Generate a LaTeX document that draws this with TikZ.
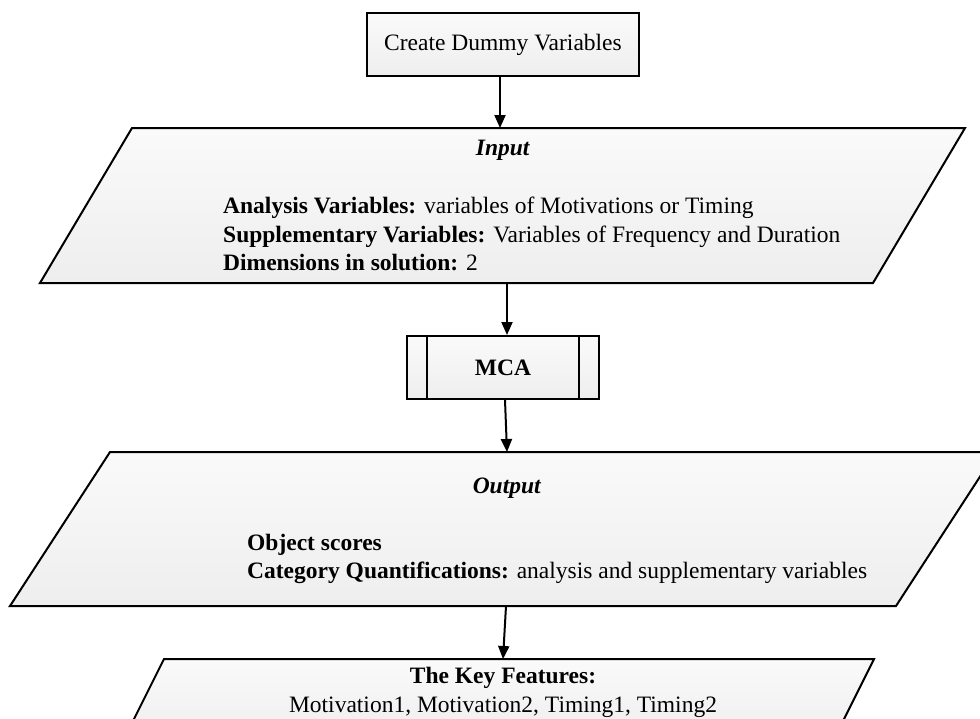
\documentclass[tikz,border=0pt]{standalone}
\usepackage{fontspec}
\setmainfont{Liberation Serif}
\usetikzlibrary{arrows.meta,calc}
\definecolor{boxtop}{HTML}{FAFAFA}
\definecolor{boxbot}{HTML}{EEEEEE}
\begin{document}
\begin{tikzpicture}[x=1pt,y=-1pt,
  outline/.style={draw=black,line width=2pt,line join=miter,top color=boxtop,bottom color=boxbot},
  arr/.style={-{Triangle[length=13pt,width=11pt]},line width=2pt},
  txt/.style={inner sep=0pt,font=\fontsize{23.5}{28}\selectfont},
  rectbox/.style={outline,inner sep=0pt,font=\fontsize{23.5}{28}\selectfont}]
\useasboundingbox (0,0) rectangle (980,718);
\fill[white] (0,0) rectangle (980,718);

% Create Dummy Variables
\node[rectbox,minimum width=272pt,minimum height=63pt] (dummy) at (503,44.5) {Create Dummy Variables};

% Input parallelogram
\path[outline] (132,128) coordinate (inTL) -- (965,128) -- (873,283) -- (40,283) coordinate (inBL) -- cycle;
\coordinate (inTop) at (500,128);
\coordinate (inBot) at (507,283);
\node[txt,anchor=base] (inTitle) at (503,155) {\textbf{\textit{Input}}};
\node[txt,anchor=base west] (inA) at (223,213) {\textbf{Analysis Variables:} variables of Motivations or Timing};
\node[txt,anchor=base west] (inS) at (223,242) {\textbf{Supplementary Variables:} Variables of Frequency and Duration};
\node[txt,anchor=base west] (inD) at (223,270) {\textbf{Dimensions in solution:} 2};

% MCA predefined process
\node[rectbox,minimum width=192pt,minimum height=63pt] (mca) at (503,367.5) {};
\draw[line width=2pt] (427,336) -- (427,399);
\draw[line width=2pt] (579,336) -- (579,399);
\node[txt,anchor=base] (mcaT) at (503,375) {\textbf{MCA}};

% Output parallelogram
\path[outline] (110,452) -- (996,452) -- (896,606) -- (10,606) -- cycle;
\coordinate (outTop) at (507,452);
\coordinate (outBot) at (506,606);
\node[txt,anchor=base] (outTitle) at (507,493) {\textbf{\textit{Output}}};
\node[txt,anchor=base west] (outO) at (247,550) {\textbf{Object scores}};
\node[txt,anchor=base west] (outC) at (247,578) {\textbf{Category Quantifications:} analysis and supplementary variables};

% Key features parallelogram
\path[outline] (164,659) -- (874,659) -- (833.5,740) -- (123.5,740) -- cycle;
\coordinate (keyTop) at (503,659);
\node[txt,anchor=base] (keyT) at (503,683) {\textbf{The Key Features:}};
\node[txt,anchor=base] (keyL) at (503,712) {Motivation1, Motivation2, Timing1, Timing2};

% connectors
\draw[arr] (dummy.south -| inTop) -- (inTop);
\draw[arr] (inBot) -- (mca.north -| inBot);
\draw[arr] (mca.south -| 505,0) -- (outTop);
\draw[arr] (outBot) -- (keyTop);
\end{tikzpicture}
\end{document}
